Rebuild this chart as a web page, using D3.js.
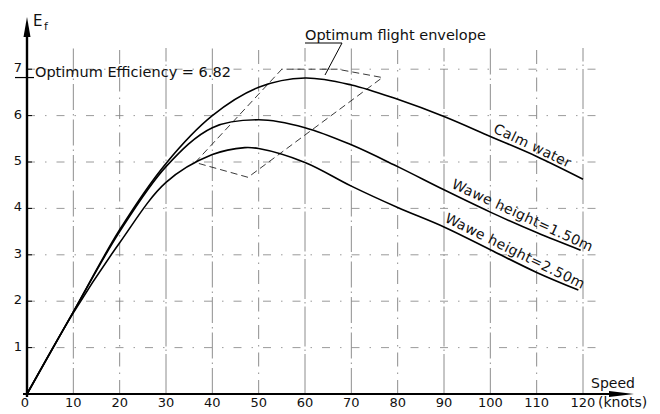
<!DOCTYPE html>
<html><head><meta charset="utf-8">
<script src="https://cdn.jsdelivr.net/npm/d3@7"></script>
<style>
body{margin:0;background:#fff}
svg text{font-family:"DejaVu Sans",sans-serif;fill:#111}
</style>
</head><body>
<svg id="chart" width="660" height="414"></svg>
<script>
// ---- data ----
const speedTicks = [0,10,20,30,40,50,60,70,80,90,100,110,120];
const efTicks = [1,2,3,4,5,6,7];
const calmWater = [[0,0],[10,1.77],[20,3.54],[30,4.97],[40,6.0],[50,6.61],[60,6.81],[70,6.66],[80,6.35],[90,5.98],[100,5.55],[110,5.12],[120,4.63]];
const wave150   = [[0,0],[10,1.77],[20,3.5],[30,4.9],[40,5.74],[50,5.91],[60,5.74],[70,5.37],[80,4.9],[90,4.4],[100,3.92],[110,3.48],[119.5,3.1]];
const wave250   = [[0,0],[10,1.75],[20,3.26],[30,4.56],[40,5.16],[47,5.31],[50,5.29],[60,4.99],[70,4.48],[80,4.02],[90,3.6],[100,3.11],[110,2.62],[119,2.24]];
const envelope  = [[36.3,4.99],[55,7.0],[67,7.0],[76.7,6.82],[47.7,4.67]];
const optimumEfficiency = 6.82;
const curveLabels = ["Calm water","Wawe height=1.50m","Wawe height=2.50m"];
const labelStart = [100, 91, 89.5];
const labelEnd   = [117, 120, 119];

// ---- layout ----
const svg = d3.select("#chart");
const x = d3.scaleLinear().domain([0,120]).range([27,583]);
const y = d3.scaleLinear().domain([0,7]).range([394,69.2]);
const gridTop = 48, gridRight = 605;

// grid
const g = svg.append("g");
g.selectAll(".vg").data(speedTicks.slice(1)).join("line")
  .attr("x1",d=>x(d)).attr("x2",d=>x(d)).attr("y1",y(0)).attr("y2",gridTop)
  .attr("stroke","#707070").attr("stroke-width",0.8)
  .attr("stroke-dasharray",(d,i)=> i%3===0 ? "26,4,1.5,4" : (i%3===1 ? "14,6,1.5,6" : "40,3,1.5,3"));
g.selectAll(".hg").data(efTicks).join("line")
  .attr("x1",x(0)).attr("x2",gridRight).attr("y1",d=>y(d)).attr("y2",d=>y(d))
  .attr("stroke","#808080").attr("stroke-width",0.8)
  .attr("stroke-dasharray","8,10,1.5,10");

// envelope
const lineGen = d3.line().x(d=>x(d[0])).y(d=>y(d[1]));
svg.append("path").attr("d", lineGen(envelope)+"Z")
  .attr("fill","none").attr("stroke","#222").attr("stroke-width",0.9)
  .attr("stroke-dasharray","7,4");

// curves
const curveGen = d3.line().x(d=>x(d[0])).y(d=>y(d[1])).curve(d3.curveCatmullRom.alpha(0.5));
const series = [calmWater, wave150, wave250];
series.forEach((s,i)=>{
  svg.append("path").attr("id","c"+i).attr("d",curveGen(s))
    .attr("fill","none").attr("stroke","#000").attr("stroke-width",1.6);
});

function pointAtX(p, tx){
  let lo=0, hi=p.getTotalLength();
  for(let k=0;k<40;k++){const m=(lo+hi)/2; if(p.getPointAtLength(m).x<tx) lo=m; else hi=m;}
  return p.getPointAtLength(lo);
}
// labels along curves (rotated text)
series.forEach((s,i)=>{
  const p = document.getElementById("c"+i);
  const a = pointAtX(p, x(labelStart[i])), b = pointAtX(p, x(labelEnd[i]));
  const ang = Math.atan2(b.y-a.y, b.x-a.x)*180/Math.PI + 1;
  svg.append("text")
    .attr("transform",`translate(${a.x},${a.y}) rotate(${ang})`)
    .attr("dy",-5).style("font-size","14px").style("letter-spacing","0.4px")
    .text(curveLabels[i]);
});

// axes
svg.append("line").attr("x1",x(0)).attr("x2",x(0)).attr("y1",y(0)+3).attr("y2",36)
  .attr("stroke","#000").attr("stroke-width",2.4);
svg.append("path").attr("d",`M${x(0)-3.5},37 L${x(0)},17 L${x(0)+3.5},37 Z`).attr("fill","#000");
svg.append("line").attr("x1",x(0)-4).attr("x2",612).attr("y1",y(0)).attr("y2",y(0))
  .attr("stroke","#000").attr("stroke-width",2.2);
svg.append("path").attr("d",`M609,${y(0)-3} L634,${y(0)} L609,${y(0)+3} Z`).attr("fill","#000");

// y ticks & labels
svg.selectAll(".yt").data(efTicks).join("line")
  .attr("x1",x(0)).attr("x2",x(0)+5).attr("y1",d=>y(d)).attr("y2",d=>y(d))
  .attr("stroke","#000").attr("stroke-width",1);
svg.selectAll(".yl").data(efTicks).join("text")
  .attr("x",22).attr("y",d=>y(d)+3).attr("text-anchor","end")
  .style("font-size","13px").text(d=>d);
// x labels
svg.selectAll(".xl").data(speedTicks).join("text")
  .attr("x",d=>x(d)-(d===0?2:0)).attr("y",407).attr("text-anchor","middle")
  .style("font-size","13px").text(d=>d);

// optimum efficiency marker
svg.append("line").attr("x1",15).attr("x2",34).attr("y1",y(optimumEfficiency)).attr("y2",y(optimumEfficiency))
  .attr("stroke","#000").attr("stroke-width",1.2);
svg.append("text").attr("x",35).attr("y",77).style("font-size","14.5px")
  .text("Optimum Efficiency = " + optimumEfficiency);

// envelope callout
svg.append("text").attr("x",305).attr("y",40).style("font-size","14.5px").text("Optimum flight envelope");
svg.append("line").attr("x1",305).attr("x2",342).attr("y1",43).attr("y2",43).attr("stroke","#000").attr("stroke-width",1);
svg.append("line").attr("x1",342).attr("x2",325).attr("y1",43).attr("y2",75).attr("stroke","#000").attr("stroke-width",1);

// axis titles
svg.append("text").attr("x",33).attr("y",26).style("font-size","15px").text("E");
svg.append("text").attr("x",44).attr("y",30).style("font-size","11px").text("f");
svg.append("text").attr("x",591).attr("y",388).style("font-size","14px").text("Speed");
svg.append("text").attr("x",598).attr("y",407).style("font-size","14px").text("(knots)");
</script>
</body></html>
